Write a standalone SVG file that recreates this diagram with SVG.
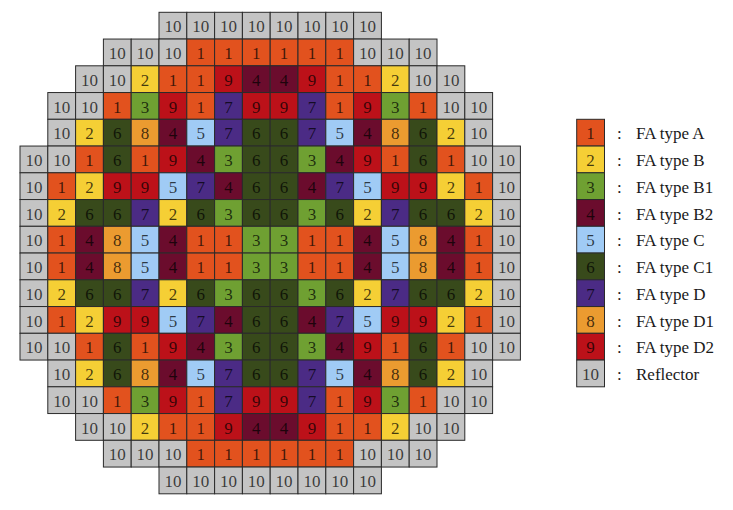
<svg xmlns="http://www.w3.org/2000/svg" width="733" height="510" viewBox="0 0 733 510">
<style>
.g rect,.lg rect{width:27.8px;height:26.75px;stroke:#2a2a2a;stroke-width:1}
.g text,.lg text{font-family:"Liberation Serif","Times New Roman",serif;font-size:17px;fill:#000}
.g text,.lg text.n{text-anchor:middle;fill-opacity:0.72}
.lg text.l{text-anchor:start;fill:#1a1a1a}
.t1{fill:#E2521E}.t2{fill:#F5CF35}.t3{fill:#6FA032}.t4{fill:#6B0C2D}.t5{fill:#A0CBF5}
.t6{fill:#384A1B}.t7{fill:#4B2B85}.t8{fill:#EB9B30}.t9{fill:#BC1119}.t10{fill:#C4C4C4}
</style>
<rect width="733" height="510" fill="#fff"/>
<g id="core" class="g">
<g id="row0" transform="translate(0,12.3)">
<rect x="159" class="t10"/><text x="172.9" y="20">10</text><rect x="186.8" class="t10"/><text x="200.7" y="20">10</text><rect x="214.6" class="t10"/><text x="228.5" y="20">10</text><rect x="242.4" class="t10"/><text x="256.3" y="20">10</text><rect x="270.2" class="t10"/><text x="284.1" y="20">10</text><rect x="298" class="t10"/><text x="311.9" y="20">10</text><rect x="325.8" class="t10"/><text x="339.7" y="20">10</text><rect x="353.6" class="t10"/><text x="367.5" y="20">10</text>
</g>
<g id="row1" transform="translate(0,39.05)">
<rect x="103.4" class="t10"/><text x="117.3" y="20">10</text><rect x="131.2" class="t10"/><text x="145.1" y="20">10</text><rect x="159" class="t10"/><text x="172.9" y="20">10</text><rect x="186.8" class="t1"/><text x="200.7" y="20">1</text><rect x="214.6" class="t1"/><text x="228.5" y="20">1</text><rect x="242.4" class="t1"/><text x="256.3" y="20">1</text><rect x="270.2" class="t1"/><text x="284.1" y="20">1</text><rect x="298" class="t1"/><text x="311.9" y="20">1</text><rect x="325.8" class="t1"/><text x="339.7" y="20">1</text><rect x="353.6" class="t10"/><text x="367.5" y="20">10</text><rect x="381.4" class="t10"/><text x="395.3" y="20">10</text><rect x="409.2" class="t10"/><text x="423.1" y="20">10</text>
</g>
<g id="row2" transform="translate(0,65.8)">
<rect x="75.6" class="t10"/><text x="89.5" y="20">10</text><rect x="103.4" class="t10"/><text x="117.3" y="20">10</text><rect x="131.2" class="t2"/><text x="145.1" y="20">2</text><rect x="159" class="t1"/><text x="172.9" y="20">1</text><rect x="186.8" class="t1"/><text x="200.7" y="20">1</text><rect x="214.6" class="t9"/><text x="228.5" y="20">9</text><rect x="242.4" class="t4"/><text x="256.3" y="20">4</text><rect x="270.2" class="t4"/><text x="284.1" y="20">4</text><rect x="298" class="t9"/><text x="311.9" y="20">9</text><rect x="325.8" class="t1"/><text x="339.7" y="20">1</text><rect x="353.6" class="t1"/><text x="367.5" y="20">1</text><rect x="381.4" class="t2"/><text x="395.3" y="20">2</text><rect x="409.2" class="t10"/><text x="423.1" y="20">10</text><rect x="437" class="t10"/><text x="450.9" y="20">10</text>
</g>
<g id="row3" transform="translate(0,92.55)">
<rect x="47.8" class="t10"/><text x="61.7" y="20">10</text><rect x="75.6" class="t10"/><text x="89.5" y="20">10</text><rect x="103.4" class="t1"/><text x="117.3" y="20">1</text><rect x="131.2" class="t3"/><text x="145.1" y="20">3</text><rect x="159" class="t9"/><text x="172.9" y="20">9</text><rect x="186.8" class="t1"/><text x="200.7" y="20">1</text><rect x="214.6" class="t7"/><text x="228.5" y="20">7</text><rect x="242.4" class="t9"/><text x="256.3" y="20">9</text><rect x="270.2" class="t9"/><text x="284.1" y="20">9</text><rect x="298" class="t7"/><text x="311.9" y="20">7</text><rect x="325.8" class="t1"/><text x="339.7" y="20">1</text><rect x="353.6" class="t9"/><text x="367.5" y="20">9</text><rect x="381.4" class="t3"/><text x="395.3" y="20">3</text><rect x="409.2" class="t1"/><text x="423.1" y="20">1</text><rect x="437" class="t10"/><text x="450.9" y="20">10</text><rect x="464.8" class="t10"/><text x="478.7" y="20">10</text>
</g>
<g id="row4" transform="translate(0,119.3)">
<rect x="47.8" class="t10"/><text x="61.7" y="20">10</text><rect x="75.6" class="t2"/><text x="89.5" y="20">2</text><rect x="103.4" class="t6"/><text x="117.3" y="20">6</text><rect x="131.2" class="t8"/><text x="145.1" y="20">8</text><rect x="159" class="t4"/><text x="172.9" y="20">4</text><rect x="186.8" class="t5"/><text x="200.7" y="20">5</text><rect x="214.6" class="t7"/><text x="228.5" y="20">7</text><rect x="242.4" class="t6"/><text x="256.3" y="20">6</text><rect x="270.2" class="t6"/><text x="284.1" y="20">6</text><rect x="298" class="t7"/><text x="311.9" y="20">7</text><rect x="325.8" class="t5"/><text x="339.7" y="20">5</text><rect x="353.6" class="t4"/><text x="367.5" y="20">4</text><rect x="381.4" class="t8"/><text x="395.3" y="20">8</text><rect x="409.2" class="t6"/><text x="423.1" y="20">6</text><rect x="437" class="t2"/><text x="450.9" y="20">2</text><rect x="464.8" class="t10"/><text x="478.7" y="20">10</text>
</g>
<g id="row5" transform="translate(0,146.05)">
<rect x="20" class="t10"/><text x="33.9" y="20">10</text><rect x="47.8" class="t10"/><text x="61.7" y="20">10</text><rect x="75.6" class="t1"/><text x="89.5" y="20">1</text><rect x="103.4" class="t6"/><text x="117.3" y="20">6</text><rect x="131.2" class="t1"/><text x="145.1" y="20">1</text><rect x="159" class="t9"/><text x="172.9" y="20">9</text><rect x="186.8" class="t4"/><text x="200.7" y="20">4</text><rect x="214.6" class="t3"/><text x="228.5" y="20">3</text><rect x="242.4" class="t6"/><text x="256.3" y="20">6</text><rect x="270.2" class="t6"/><text x="284.1" y="20">6</text><rect x="298" class="t3"/><text x="311.9" y="20">3</text><rect x="325.8" class="t4"/><text x="339.7" y="20">4</text><rect x="353.6" class="t9"/><text x="367.5" y="20">9</text><rect x="381.4" class="t1"/><text x="395.3" y="20">1</text><rect x="409.2" class="t6"/><text x="423.1" y="20">6</text><rect x="437" class="t1"/><text x="450.9" y="20">1</text><rect x="464.8" class="t10"/><text x="478.7" y="20">10</text><rect x="492.6" class="t10"/><text x="506.5" y="20">10</text>
</g>
<g id="row6" transform="translate(0,172.8)">
<rect x="20" class="t10"/><text x="33.9" y="20">10</text><rect x="47.8" class="t1"/><text x="61.7" y="20">1</text><rect x="75.6" class="t2"/><text x="89.5" y="20">2</text><rect x="103.4" class="t9"/><text x="117.3" y="20">9</text><rect x="131.2" class="t9"/><text x="145.1" y="20">9</text><rect x="159" class="t5"/><text x="172.9" y="20">5</text><rect x="186.8" class="t7"/><text x="200.7" y="20">7</text><rect x="214.6" class="t4"/><text x="228.5" y="20">4</text><rect x="242.4" class="t6"/><text x="256.3" y="20">6</text><rect x="270.2" class="t6"/><text x="284.1" y="20">6</text><rect x="298" class="t4"/><text x="311.9" y="20">4</text><rect x="325.8" class="t7"/><text x="339.7" y="20">7</text><rect x="353.6" class="t5"/><text x="367.5" y="20">5</text><rect x="381.4" class="t9"/><text x="395.3" y="20">9</text><rect x="409.2" class="t9"/><text x="423.1" y="20">9</text><rect x="437" class="t2"/><text x="450.9" y="20">2</text><rect x="464.8" class="t1"/><text x="478.7" y="20">1</text><rect x="492.6" class="t10"/><text x="506.5" y="20">10</text>
</g>
<g id="row7" transform="translate(0,199.55)">
<rect x="20" class="t10"/><text x="33.9" y="20">10</text><rect x="47.8" class="t2"/><text x="61.7" y="20">2</text><rect x="75.6" class="t6"/><text x="89.5" y="20">6</text><rect x="103.4" class="t6"/><text x="117.3" y="20">6</text><rect x="131.2" class="t7"/><text x="145.1" y="20">7</text><rect x="159" class="t2"/><text x="172.9" y="20">2</text><rect x="186.8" class="t6"/><text x="200.7" y="20">6</text><rect x="214.6" class="t3"/><text x="228.5" y="20">3</text><rect x="242.4" class="t6"/><text x="256.3" y="20">6</text><rect x="270.2" class="t6"/><text x="284.1" y="20">6</text><rect x="298" class="t3"/><text x="311.9" y="20">3</text><rect x="325.8" class="t6"/><text x="339.7" y="20">6</text><rect x="353.6" class="t2"/><text x="367.5" y="20">2</text><rect x="381.4" class="t7"/><text x="395.3" y="20">7</text><rect x="409.2" class="t6"/><text x="423.1" y="20">6</text><rect x="437" class="t6"/><text x="450.9" y="20">6</text><rect x="464.8" class="t2"/><text x="478.7" y="20">2</text><rect x="492.6" class="t10"/><text x="506.5" y="20">10</text>
</g>
<g id="row8" transform="translate(0,226.3)">
<rect x="20" class="t10"/><text x="33.9" y="20">10</text><rect x="47.8" class="t1"/><text x="61.7" y="20">1</text><rect x="75.6" class="t4"/><text x="89.5" y="20">4</text><rect x="103.4" class="t8"/><text x="117.3" y="20">8</text><rect x="131.2" class="t5"/><text x="145.1" y="20">5</text><rect x="159" class="t4"/><text x="172.9" y="20">4</text><rect x="186.8" class="t1"/><text x="200.7" y="20">1</text><rect x="214.6" class="t1"/><text x="228.5" y="20">1</text><rect x="242.4" class="t3"/><text x="256.3" y="20">3</text><rect x="270.2" class="t3"/><text x="284.1" y="20">3</text><rect x="298" class="t1"/><text x="311.9" y="20">1</text><rect x="325.8" class="t1"/><text x="339.7" y="20">1</text><rect x="353.6" class="t4"/><text x="367.5" y="20">4</text><rect x="381.4" class="t5"/><text x="395.3" y="20">5</text><rect x="409.2" class="t8"/><text x="423.1" y="20">8</text><rect x="437" class="t4"/><text x="450.9" y="20">4</text><rect x="464.8" class="t1"/><text x="478.7" y="20">1</text><rect x="492.6" class="t10"/><text x="506.5" y="20">10</text>
</g>
<g id="row9" transform="translate(0,253.05)">
<rect x="20" class="t10"/><text x="33.9" y="20">10</text><rect x="47.8" class="t1"/><text x="61.7" y="20">1</text><rect x="75.6" class="t4"/><text x="89.5" y="20">4</text><rect x="103.4" class="t8"/><text x="117.3" y="20">8</text><rect x="131.2" class="t5"/><text x="145.1" y="20">5</text><rect x="159" class="t4"/><text x="172.9" y="20">4</text><rect x="186.8" class="t1"/><text x="200.7" y="20">1</text><rect x="214.6" class="t1"/><text x="228.5" y="20">1</text><rect x="242.4" class="t3"/><text x="256.3" y="20">3</text><rect x="270.2" class="t3"/><text x="284.1" y="20">3</text><rect x="298" class="t1"/><text x="311.9" y="20">1</text><rect x="325.8" class="t1"/><text x="339.7" y="20">1</text><rect x="353.6" class="t4"/><text x="367.5" y="20">4</text><rect x="381.4" class="t5"/><text x="395.3" y="20">5</text><rect x="409.2" class="t8"/><text x="423.1" y="20">8</text><rect x="437" class="t4"/><text x="450.9" y="20">4</text><rect x="464.8" class="t1"/><text x="478.7" y="20">1</text><rect x="492.6" class="t10"/><text x="506.5" y="20">10</text>
</g>
<g id="row10" transform="translate(0,279.8)">
<rect x="20" class="t10"/><text x="33.9" y="20">10</text><rect x="47.8" class="t2"/><text x="61.7" y="20">2</text><rect x="75.6" class="t6"/><text x="89.5" y="20">6</text><rect x="103.4" class="t6"/><text x="117.3" y="20">6</text><rect x="131.2" class="t7"/><text x="145.1" y="20">7</text><rect x="159" class="t2"/><text x="172.9" y="20">2</text><rect x="186.8" class="t6"/><text x="200.7" y="20">6</text><rect x="214.6" class="t3"/><text x="228.5" y="20">3</text><rect x="242.4" class="t6"/><text x="256.3" y="20">6</text><rect x="270.2" class="t6"/><text x="284.1" y="20">6</text><rect x="298" class="t3"/><text x="311.9" y="20">3</text><rect x="325.8" class="t6"/><text x="339.7" y="20">6</text><rect x="353.6" class="t2"/><text x="367.5" y="20">2</text><rect x="381.4" class="t7"/><text x="395.3" y="20">7</text><rect x="409.2" class="t6"/><text x="423.1" y="20">6</text><rect x="437" class="t6"/><text x="450.9" y="20">6</text><rect x="464.8" class="t2"/><text x="478.7" y="20">2</text><rect x="492.6" class="t10"/><text x="506.5" y="20">10</text>
</g>
<g id="row11" transform="translate(0,306.55)">
<rect x="20" class="t10"/><text x="33.9" y="20">10</text><rect x="47.8" class="t1"/><text x="61.7" y="20">1</text><rect x="75.6" class="t2"/><text x="89.5" y="20">2</text><rect x="103.4" class="t9"/><text x="117.3" y="20">9</text><rect x="131.2" class="t9"/><text x="145.1" y="20">9</text><rect x="159" class="t5"/><text x="172.9" y="20">5</text><rect x="186.8" class="t7"/><text x="200.7" y="20">7</text><rect x="214.6" class="t4"/><text x="228.5" y="20">4</text><rect x="242.4" class="t6"/><text x="256.3" y="20">6</text><rect x="270.2" class="t6"/><text x="284.1" y="20">6</text><rect x="298" class="t4"/><text x="311.9" y="20">4</text><rect x="325.8" class="t7"/><text x="339.7" y="20">7</text><rect x="353.6" class="t5"/><text x="367.5" y="20">5</text><rect x="381.4" class="t9"/><text x="395.3" y="20">9</text><rect x="409.2" class="t9"/><text x="423.1" y="20">9</text><rect x="437" class="t2"/><text x="450.9" y="20">2</text><rect x="464.8" class="t1"/><text x="478.7" y="20">1</text><rect x="492.6" class="t10"/><text x="506.5" y="20">10</text>
</g>
<g id="row12" transform="translate(0,333.3)">
<rect x="20" class="t10"/><text x="33.9" y="20">10</text><rect x="47.8" class="t10"/><text x="61.7" y="20">10</text><rect x="75.6" class="t1"/><text x="89.5" y="20">1</text><rect x="103.4" class="t6"/><text x="117.3" y="20">6</text><rect x="131.2" class="t1"/><text x="145.1" y="20">1</text><rect x="159" class="t9"/><text x="172.9" y="20">9</text><rect x="186.8" class="t4"/><text x="200.7" y="20">4</text><rect x="214.6" class="t3"/><text x="228.5" y="20">3</text><rect x="242.4" class="t6"/><text x="256.3" y="20">6</text><rect x="270.2" class="t6"/><text x="284.1" y="20">6</text><rect x="298" class="t3"/><text x="311.9" y="20">3</text><rect x="325.8" class="t4"/><text x="339.7" y="20">4</text><rect x="353.6" class="t9"/><text x="367.5" y="20">9</text><rect x="381.4" class="t1"/><text x="395.3" y="20">1</text><rect x="409.2" class="t6"/><text x="423.1" y="20">6</text><rect x="437" class="t1"/><text x="450.9" y="20">1</text><rect x="464.8" class="t10"/><text x="478.7" y="20">10</text><rect x="492.6" class="t10"/><text x="506.5" y="20">10</text>
</g>
<g id="row13" transform="translate(0,360.05)">
<rect x="47.8" class="t10"/><text x="61.7" y="20">10</text><rect x="75.6" class="t2"/><text x="89.5" y="20">2</text><rect x="103.4" class="t6"/><text x="117.3" y="20">6</text><rect x="131.2" class="t8"/><text x="145.1" y="20">8</text><rect x="159" class="t4"/><text x="172.9" y="20">4</text><rect x="186.8" class="t5"/><text x="200.7" y="20">5</text><rect x="214.6" class="t7"/><text x="228.5" y="20">7</text><rect x="242.4" class="t6"/><text x="256.3" y="20">6</text><rect x="270.2" class="t6"/><text x="284.1" y="20">6</text><rect x="298" class="t7"/><text x="311.9" y="20">7</text><rect x="325.8" class="t5"/><text x="339.7" y="20">5</text><rect x="353.6" class="t4"/><text x="367.5" y="20">4</text><rect x="381.4" class="t8"/><text x="395.3" y="20">8</text><rect x="409.2" class="t6"/><text x="423.1" y="20">6</text><rect x="437" class="t2"/><text x="450.9" y="20">2</text><rect x="464.8" class="t10"/><text x="478.7" y="20">10</text>
</g>
<g id="row14" transform="translate(0,386.8)">
<rect x="47.8" class="t10"/><text x="61.7" y="20">10</text><rect x="75.6" class="t10"/><text x="89.5" y="20">10</text><rect x="103.4" class="t1"/><text x="117.3" y="20">1</text><rect x="131.2" class="t3"/><text x="145.1" y="20">3</text><rect x="159" class="t9"/><text x="172.9" y="20">9</text><rect x="186.8" class="t1"/><text x="200.7" y="20">1</text><rect x="214.6" class="t7"/><text x="228.5" y="20">7</text><rect x="242.4" class="t9"/><text x="256.3" y="20">9</text><rect x="270.2" class="t9"/><text x="284.1" y="20">9</text><rect x="298" class="t7"/><text x="311.9" y="20">7</text><rect x="325.8" class="t1"/><text x="339.7" y="20">1</text><rect x="353.6" class="t9"/><text x="367.5" y="20">9</text><rect x="381.4" class="t3"/><text x="395.3" y="20">3</text><rect x="409.2" class="t1"/><text x="423.1" y="20">1</text><rect x="437" class="t10"/><text x="450.9" y="20">10</text><rect x="464.8" class="t10"/><text x="478.7" y="20">10</text>
</g>
<g id="row15" transform="translate(0,413.55)">
<rect x="75.6" class="t10"/><text x="89.5" y="20">10</text><rect x="103.4" class="t10"/><text x="117.3" y="20">10</text><rect x="131.2" class="t2"/><text x="145.1" y="20">2</text><rect x="159" class="t1"/><text x="172.9" y="20">1</text><rect x="186.8" class="t1"/><text x="200.7" y="20">1</text><rect x="214.6" class="t9"/><text x="228.5" y="20">9</text><rect x="242.4" class="t4"/><text x="256.3" y="20">4</text><rect x="270.2" class="t4"/><text x="284.1" y="20">4</text><rect x="298" class="t9"/><text x="311.9" y="20">9</text><rect x="325.8" class="t1"/><text x="339.7" y="20">1</text><rect x="353.6" class="t1"/><text x="367.5" y="20">1</text><rect x="381.4" class="t2"/><text x="395.3" y="20">2</text><rect x="409.2" class="t10"/><text x="423.1" y="20">10</text><rect x="437" class="t10"/><text x="450.9" y="20">10</text>
</g>
<g id="row16" transform="translate(0,440.3)">
<rect x="103.4" class="t10"/><text x="117.3" y="20">10</text><rect x="131.2" class="t10"/><text x="145.1" y="20">10</text><rect x="159" class="t10"/><text x="172.9" y="20">10</text><rect x="186.8" class="t1"/><text x="200.7" y="20">1</text><rect x="214.6" class="t1"/><text x="228.5" y="20">1</text><rect x="242.4" class="t1"/><text x="256.3" y="20">1</text><rect x="270.2" class="t1"/><text x="284.1" y="20">1</text><rect x="298" class="t1"/><text x="311.9" y="20">1</text><rect x="325.8" class="t1"/><text x="339.7" y="20">1</text><rect x="353.6" class="t10"/><text x="367.5" y="20">10</text><rect x="381.4" class="t10"/><text x="395.3" y="20">10</text><rect x="409.2" class="t10"/><text x="423.1" y="20">10</text>
</g>
<g id="row17" transform="translate(0,467.05)">
<rect x="159" class="t10"/><text x="172.9" y="20">10</text><rect x="186.8" class="t10"/><text x="200.7" y="20">10</text><rect x="214.6" class="t10"/><text x="228.5" y="20">10</text><rect x="242.4" class="t10"/><text x="256.3" y="20">10</text><rect x="270.2" class="t10"/><text x="284.1" y="20">10</text><rect x="298" class="t10"/><text x="311.9" y="20">10</text><rect x="325.8" class="t10"/><text x="339.7" y="20">10</text><rect x="353.6" class="t10"/><text x="367.5" y="20">10</text>
</g>
</g>
<g id="legend" class="lg">
<g id="leg1" transform="translate(0,119.3)"><rect x="576.7" class="t1"/><text class="n" x="590.6" y="20">1</text><text class="l" x="617" y="20">:</text><text class="l" x="636" y="20">FA type A</text></g>
<g id="leg2" transform="translate(0,146.05)"><rect x="576.7" class="t2"/><text class="n" x="590.6" y="20">2</text><text class="l" x="617" y="20">:</text><text class="l" x="636" y="20">FA type B</text></g>
<g id="leg3" transform="translate(0,172.8)"><rect x="576.7" class="t3"/><text class="n" x="590.6" y="20">3</text><text class="l" x="617" y="20">:</text><text class="l" x="636" y="20">FA type B1</text></g>
<g id="leg4" transform="translate(0,199.55)"><rect x="576.7" class="t4"/><text class="n" x="590.6" y="20">4</text><text class="l" x="617" y="20">:</text><text class="l" x="636" y="20">FA type B2</text></g>
<g id="leg5" transform="translate(0,226.3)"><rect x="576.7" class="t5"/><text class="n" x="590.6" y="20">5</text><text class="l" x="617" y="20">:</text><text class="l" x="636" y="20">FA type C</text></g>
<g id="leg6" transform="translate(0,253.05)"><rect x="576.7" class="t6"/><text class="n" x="590.6" y="20">6</text><text class="l" x="617" y="20">:</text><text class="l" x="636" y="20">FA type C1</text></g>
<g id="leg7" transform="translate(0,279.8)"><rect x="576.7" class="t7"/><text class="n" x="590.6" y="20">7</text><text class="l" x="617" y="20">:</text><text class="l" x="636" y="20">FA type D</text></g>
<g id="leg8" transform="translate(0,306.55)"><rect x="576.7" class="t8"/><text class="n" x="590.6" y="20">8</text><text class="l" x="617" y="20">:</text><text class="l" x="636" y="20">FA type D1</text></g>
<g id="leg9" transform="translate(0,333.3)"><rect x="576.7" class="t9"/><text class="n" x="590.6" y="20">9</text><text class="l" x="617" y="20">:</text><text class="l" x="636" y="20">FA type D2</text></g>
<g id="leg10" transform="translate(0,360.05)"><rect x="576.7" class="t10"/><text class="n" x="590.6" y="20">10</text><text class="l" x="617" y="20">:</text><text class="l" x="636" y="20">Reflector</text></g>
</g>
</svg>
